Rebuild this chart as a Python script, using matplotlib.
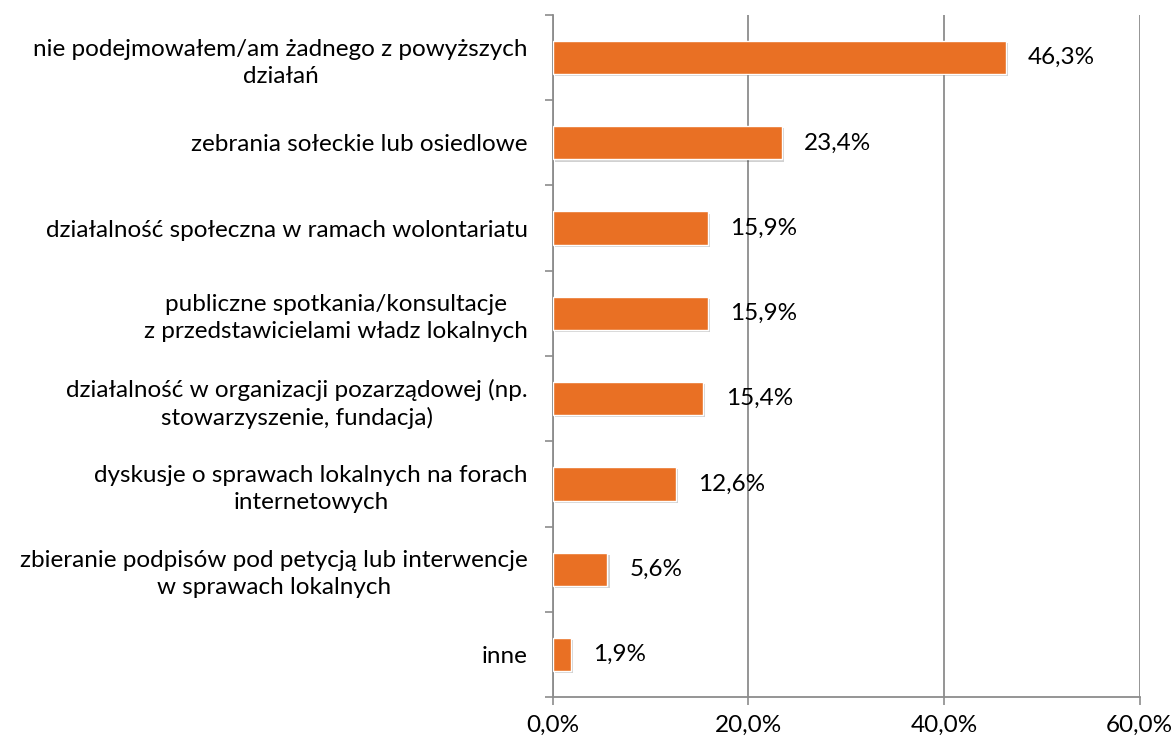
import matplotlib.pyplot as plt
import matplotlib.patheffects as pe
import numpy as np

categories = [
    "nie podejmowałem/am żadnego z powyższych\ndziałań",
    "zebrania sołeckie lub osiedlowe",
    "działalność społeczna w ramach wolontariatu",
    "publiczne spotkania/konsultacje\nz przedstawicielami władz lokalnych",
    "działalność w organizacji pozarządowej (np.\nstowarzyszenie, fundacja)",
    "dyskusje o sprawach lokalnych na forach\ninternetowych",
    "zbieranie podpisów pod petycją lub interwencje\nw sprawach lokalnych",
    "inne",
]
values = [46.3, 23.4, 15.9, 15.9, 15.4, 12.6, 5.6, 1.9]
xticks = [0, 20, 40, 60]

plt.rcParams['font.family'] = ['Lato', 'DejaVu Sans']
fs = 17.5

fig = plt.figure(figsize=(11.76, 7.45), dpi=100)
ax = fig.add_axes([0.470, 0.0644, 0.499, 0.9155])

y = np.arange(len(values))
bars = ax.barh(y, values, height=0.39, color='#E97024', edgecolor='white',
               linewidth=1.0, zorder=3)
for b in bars:
    b.set_path_effects([pe.SimplePatchShadow(offset=(1.5, -1.5), shadow_rgbFace='#000000', alpha=0.18),
                        pe.Normal()])

for yi, v in zip(y, values):
    ax.annotate(f"{v:.1f}%".replace('.', ','), (v, yi), xytext=(16, 0),
                textcoords='offset points', va='center', ha='left', fontsize=fs,
                color='black', zorder=4)

ax.set_xlim(0, 60)
ax.set_ylim(len(values) - 0.5, -0.5)

ax.set_xticks(xticks)
ax.set_xticklabels([f"{t:.1f}%".replace('.', ',') for t in xticks], fontsize=fs)
ax.set_yticks(np.arange(len(values) + 1) - 0.5)
ax.set_yticklabels([])
ax.set_yticks(y, minor=True)
ax.set_yticklabels(categories, minor=True, fontsize=fs, multialignment='center',
                   linespacing=1.35)
ax.tick_params(axis='y', which='minor', length=0, pad=18)
ax.tick_params(axis='y', which='major', length=6, width=1.2, color='#8c8c8c', direction='out')
ax.tick_params(axis='x', length=6, width=1.2, color='#8c8c8c', direction='out', pad=7)

ax.grid(axis='x', color='#8c8c8c', linewidth=1.3, zorder=0)
for s in ['top', 'right']:
    ax.spines[s].set_visible(False)
for s in ['left', 'bottom']:
    ax.spines[s].set_color('#8c8c8c')
    ax.spines[s].set_linewidth(1.3)

fig.savefig('out.png', dpi=100)
